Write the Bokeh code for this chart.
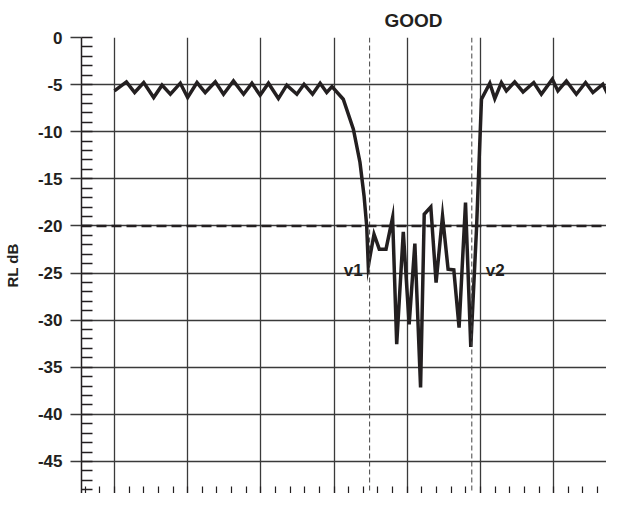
from bokeh.plotting import figure
from bokeh.models import FixedTicker, Span, Range1d
from bokeh.core.properties import value
from bokeh.embed import file_html
from bokeh.resources import INLINE

# ---- data (x in arbitrary frequency units, y in dB) ----
freq = [10.0, 10.82, 11.38, 12.0, 12.68, 13.25, 13.82, 14.5, 15.0, 15.64, 16.2, 16.89,
        17.45, 18.13, 18.82, 19.39, 19.95, 20.52, 21.2, 21.77, 22.46, 22.95, 23.53,
        24.05, 24.5, 24.86,
        25.63, 26.32, 26.77, 27.05, 27.23, 27.34,
        27.73, 28.09, 28.55, 29.0, 29.28, 29.73, 30.13, 30.52, 30.91, 31.16, 31.61,
        31.97, 32.41, 32.79, 33.18, 33.54, 33.98, 34.34, 34.73, 35.07,
        35.64, 35.98, 36.43, 36.77, 37.34, 37.91, 38.64, 39.16, 39.91, 40.29, 40.87,
        41.55, 42.18, 42.68, 43.36, 43.7, 44.27, 44.7]
rl_db = [-5.67, -4.71, -5.84, -4.78, -6.37, -5.06, -6.02, -4.85, -6.37, -4.78, -5.84, -4.71,
         -6.02, -4.61, -6.02, -4.85, -6.13, -4.85, -6.48, -5.06, -6.02, -4.96, -6.02,
         -4.85, -5.84, -5.22,
         -6.55, -9.73, -13.24, -16.82, -20.0, -24.25,
         -20.88, -22.47, -22.47, -19.11, -32.56, -20.64, -30.44, -21.87, -37.15, -18.76, -17.98,
         -26.01, -18.94, -24.6, -24.67, -30.79, -17.52, -32.85, -20.35, -6.55,
         -4.85, -6.48, -4.78, -5.67, -4.71, -5.78, -4.78, -6.02, -4.43, -5.67, -4.61,
         -6.02, -4.78, -5.84, -4.96, -6.02, -4.96, -6.73]

marker_x = [27.43, 34.41]
marker_labels = ["v1", "v2"]
marker_label_y = [-24.7, -24.7]
threshold_db = -20

y_major = [0, -5, -10, -15, -20, -25, -30, -35, -40, -45]
y_minor = list(range(-50, 1))
x_major = [10, 15, 20, 25, 30, 35, 40]
x_minor = list(range(8, 45))

INK = "#231f20"
GRID = "#3a3a3a"
FONT = "Liberation Sans"

p = figure(width=606, height=493, output_backend="svg", toolbar_location=None,
           x_range=Range1d(7.75, 43.61), y_range=Range1d(-48.4, 0),
           min_border_left=73, min_border_right=0, min_border_top=30, min_border_bottom=0,
           title="GOOD")
p.outline_line_color = None
p.background_fill_color = "white"
p.border_fill_color = "white"

p.title.text_font = FONT
p.title.text_font_size = "19px"
p.title.text_font_style = "bold"
p.title.text_color = INK
p.title.align = "left"
p.title.offset = 303
p.title.standoff = 14

# y axis
ya = p.yaxis[0]
ya.ticker = FixedTicker(ticks=y_major, minor_ticks=y_minor)
ya.major_label_overrides = {t: str(t) for t in y_major}
ya.axis_label = "RL dB"
ya.axis_label_text_font = FONT
ya.axis_label_text_font_size = "15px"
ya.axis_label_text_font_style = "bold"
ya.axis_label_text_color = INK
ya.axis_label_standoff = 14
ya.major_label_text_font = FONT
ya.major_label_text_font_size = "17px"
ya.major_label_text_font_style = "bold"
ya.major_label_text_color = INK
ya.major_label_standoff = 8
ya.major_tick_out = 11
ya.major_tick_in = 0
ya.minor_tick_in = 11
ya.minor_tick_out = 0
ya.axis_line_color = INK
ya.axis_line_width = 1.5
ya.major_tick_line_color = GRID
ya.major_tick_line_width = 1.3
ya.minor_tick_line_color = INK
ya.minor_tick_line_width = 1.3

# x axis (ticks only, no labels)
xa = p.xaxis[0]
xa.ticker = FixedTicker(ticks=x_major, minor_ticks=x_minor)
xa.major_label_text_font_size = "1px"
xa.major_label_text_color = None
xa.major_label_standoff = 0
xa.major_tick_in = 0
xa.major_tick_out = 0
xa.minor_tick_in = 7
xa.minor_tick_out = 0
xa.minor_tick_line_color = INK
xa.minor_tick_line_width = 1.2
xa.axis_line_color = None

p.xgrid.ticker = FixedTicker(ticks=x_major)
p.ygrid.ticker = FixedTicker(ticks=y_major)
for g in (p.xgrid, p.ygrid):
    g.grid_line_color = GRID
    g.grid_line_width = 1.3
    g.grid_line_alpha = 1.0

# markers and threshold
for mx in marker_x:
    p.add_layout(Span(location=mx, dimension="height", line_color="#444444",
                      line_width=1, line_dash="5 3"))
p.add_layout(Span(location=threshold_db, dimension="width", line_color=INK,
                  line_width=2.5, line_dash="10 5"))

# data curve
p.line(freq, rl_db, line_color=INK, line_width=3.5, line_join="miter")

# marker labels
p.text(x=marker_x[:1], y=marker_label_y[:1], text=marker_labels[:1],
       text_font=value(FONT), text_font_size="17px", text_font_style="bold",
       text_color=INK, text_align="right", text_baseline="alphabetic", x_offset=-7)
p.text(x=marker_x[1:], y=marker_label_y[1:], text=marker_labels[1:],
       text_font=value(FONT), text_font_size="17px", text_font_style="bold",
       text_color=INK, text_align="left", text_baseline="alphabetic", x_offset=14)

open("out.html", "w").write(file_html(p, INLINE))
